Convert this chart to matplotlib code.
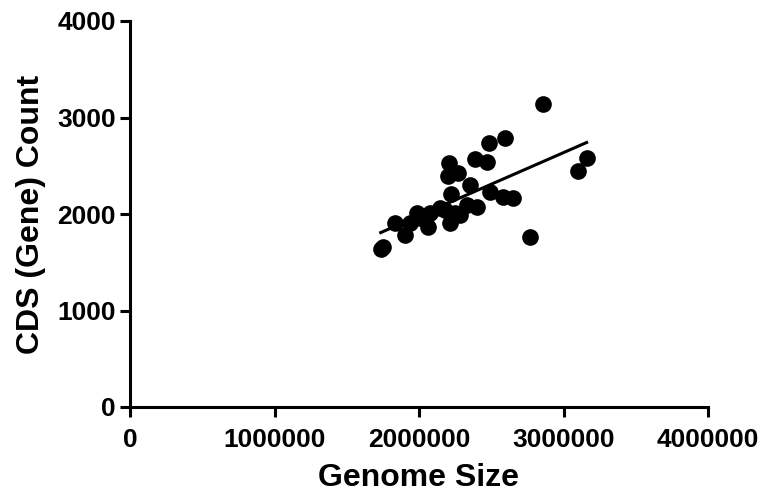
import numpy as np
import matplotlib
matplotlib.use("Agg")
import matplotlib.pyplot as plt

genome_size = [2856000, 2595000, 2487000, 2388000, 2473000, 2210000, 2203000, 2272000,
               3160000, 3098000, 2353000, 2491000, 2219000, 2583000, 2653000, 2330000,
               2399000, 2145000, 2076000, 1984000, 2284000, 2215000, 2064000, 1938000,
               1834000, 1903000, 2768000, 1753000, 1735000, 2010000, 2180000, 2250000]
cds_count = [3140, 2784, 2733, 2570, 2536, 2532, 2394, 2422,
             2583, 2449, 2300, 2231, 2207, 2179, 2163, 2093,
             2069, 2059, 2007, 2007, 1990, 1904, 1869, 1904,
             1904, 1782, 1765, 1661, 1635, 1960, 2040, 2010]

x_ticks = [0, 1000000, 2000000, 3000000, 4000000]
y_ticks = [0, 1000, 2000, 3000, 4000]

plt.rcParams['font.family'] = ['Liberation Sans', 'DejaVu Sans']
plt.rcParams['font.weight'] = 'bold'

fig = plt.figure(figsize=(7.65, 5.0), dpi=100)
ax = fig.add_axes([130/765, 1-407/500, (708-130)/765, (407-21)/500])

xs = np.array(genome_size, dtype=float)
ys = np.array(cds_count, dtype=float)
ax.plot(xs, ys, 'o', color='black', markersize=12, markeredgewidth=0, clip_on=False)

m, b = np.polyfit(xs, ys, 1)
xl = np.array([xs.min(), xs.max()])
ax.plot(xl, m*xl + b, color='black', linewidth=2.2)

ax.set_xlim(0, 4000000)
ax.set_ylim(0, 4000)
ax.set_xticks(x_ticks)
ax.set_yticks(y_ticks)
ax.set_xticklabels([str(v) for v in x_ticks], fontsize=19, fontweight='bold')
ax.set_yticklabels([str(v) for v in y_ticks], fontsize=19, fontweight='bold')

for s in ['top', 'right']:
    ax.spines[s].set_visible(False)
for s in ['left', 'bottom']:
    ax.spines[s].set_linewidth(2.2)
ax.tick_params(axis='both', width=2.2, length=7, color='black')
ax.tick_params(axis='x', pad=8)
ax.tick_params(axis='y', pad=3)

ax.set_xlabel('Genome Size', fontsize=23, fontweight='bold', labelpad=8)
ax.set_ylabel('CDS (Gene) Count', fontsize=23, fontweight='bold', labelpad=8)

fig.savefig('out.png', dpi=100)
